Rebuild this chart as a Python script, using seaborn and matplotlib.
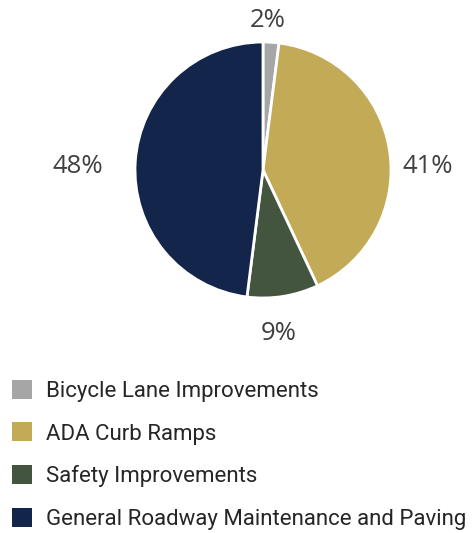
import numpy as np
import seaborn as sns
import matplotlib.pyplot as plt
from matplotlib.patches import Patch

sns.set_style("white")
plt.rcParams['font.family'] = ['Roboto', 'DejaVu Sans']

categories = ['Bicycle Lane Improvements', 'ADA Curb Ramps',
              'Safety Improvements', 'General Roadway Maintenance and Paving']
shares = [2, 41, 9, 48]
pct_labels = ['2%', '41%', '9%', '48%']
colors = ['#A6A6A6', '#C2AA57', '#44553F', '#13254B']
# where each percent label sits, in pie-radius units
label_x = [0.04, 1.285, 0.12, -1.45]
label_y = [1.17, 0.03, -1.28, 0.03]

fig = plt.figure(figsize=(4.76, 5.33), dpi=100)
ax = fig.add_axes([135 / 476, 1 - 298 / 533, 256 / 476, 256 / 533])

wedges, _ = ax.pie(shares, colors=colors, startangle=90, counterclock=False,
                   wedgeprops=dict(edgecolor='white', linewidth=2))
ax.set_xlim(-1, 1)
ax.set_ylim(-1, 1)
ax.set_aspect('equal')

for lab, x, y in zip(pct_labels, label_x, label_y):
    ax.text(x, y, lab, ha='center', va='center',
            fontsize=18.5, color='#404040', family=['Open Sans', 'DejaVu Sans'],
            clip_on=False)

handles = [Patch(facecolor=c, edgecolor='none') for c in colors]
fig.legend(handles, categories, loc='upper left',
           bbox_to_anchor=(5 / 476, 1 - 373 / 533),
           frameon=False, fontsize=16, handlelength=0.93, handleheight=0.93,
           handletextpad=0.6, labelspacing=0.93, labelcolor='#262626',
           borderaxespad=0, borderpad=0.3)

fig.savefig('out.png', dpi=100)
